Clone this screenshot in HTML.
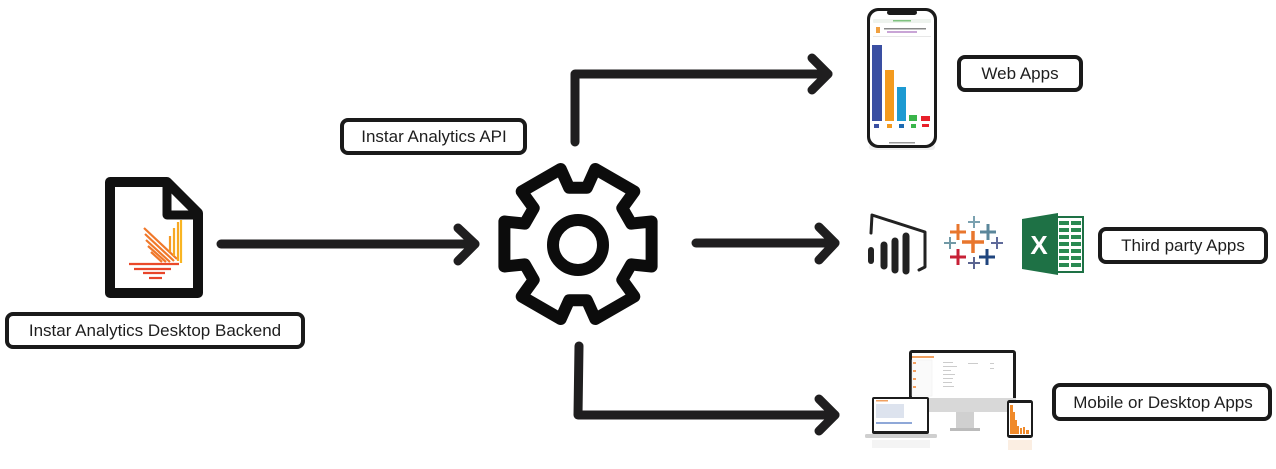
<!DOCTYPE html>
<html>
<head>
<meta charset="utf-8">
<style>
  html,body{margin:0;padding:0;background:#fff;}
  body{width:1276px;height:469px;overflow:hidden;}
  svg{display:block;}
  text{font-family:"Liberation Sans", Arial, sans-serif;fill:#1e1e1e;}
</style>
</head>
<body>
<svg width="1276" height="469" viewBox="0 0 1276 469" xmlns="http://www.w3.org/2000/svg">
  <!-- ===== Document icon ===== -->
  <path d="M110 182 L167 182 L198 213 L198 293 L110 293 Z" fill="#fff" stroke="#111" stroke-width="10" stroke-linejoin="round"/>
  <path d="M167 182 L167 215 L198 215" fill="none" stroke="#111" stroke-width="9" stroke-linejoin="round"/>
  <!-- logo -->
  <g stroke-width="2.2" stroke-linecap="butt">
    <line x1="144" y1="228" x2="177" y2="259" stroke="#f0782a"/>
    <line x1="145" y1="234" x2="174" y2="261" stroke="#f0782a"/>
    <line x1="146" y1="240" x2="170" y2="262" stroke="#f0782a"/>
    <line x1="148" y1="246" x2="166" y2="262" stroke="#f0782a"/>
    <line x1="151" y1="252" x2="162" y2="262" stroke="#f0782a"/>
    <line x1="170" y1="236" x2="170" y2="252" stroke="#f59a25"/>
    <line x1="174" y1="228" x2="174" y2="256" stroke="#f7a823"/>
    <line x1="178" y1="222" x2="178" y2="261" stroke="#f7a823"/>
    <line x1="181" y1="220" x2="181" y2="263" stroke="#f9b522"/>
    <line x1="129" y1="264" x2="179" y2="264" stroke="#ea4a2a"/>
    <line x1="134" y1="269" x2="171" y2="269" stroke="#e8452a"/>
    <line x1="143" y1="273" x2="165" y2="273" stroke="#e8452a"/>
    <line x1="149" y1="278" x2="162" y2="278" stroke="#e8452a"/>
  </g>

  <!-- Backend box -->
  <rect x="7" y="314" width="296" height="33" rx="6" fill="#fff" stroke="#1a1a1a" stroke-width="4"/>
  <text x="155" y="336" font-size="17" text-anchor="middle">Instar Analytics Desktop Backend</text>

  <!-- API box -->
  <rect x="342" y="120" width="183" height="33" rx="6" fill="#fff" stroke="#1a1a1a" stroke-width="4"/>
  <text x="434" y="142" font-size="17" text-anchor="middle">Instar Analytics API</text>

  <!-- ===== Arrows ===== -->
  <g fill="none" stroke="#1f1e1f" stroke-width="9" stroke-linecap="round" stroke-linejoin="round">
    <!-- left -->
    <path d="M221 244 L475 244"/>
    <path d="M458 228 L475 244 L458 261"/>
    <!-- top -->
    <path d="M575 142 L575 74 L828 74"/>
    <path d="M812 58 L828 74 L812 90"/>
    <!-- middle -->
    <path d="M696 243 L835 243"/>
    <path d="M819 227 L835 243 L819 260"/>
    <!-- bottom -->
    <path d="M579 346 L578 415 L835 415"/>
    <path d="M819 399 L835 415 L819 431"/>
  </g>

  <!-- ===== Gear ===== -->
  <path d="M631.2 223.6 L651.6 221.5 L651.6 266.5 L631.2 264.4
           L622.3 279.9 L634.3 296.5 L595.3 319.0 L586.9 300.3
           L569.1 300.3 L560.7 319.0 L521.7 296.5 L533.7 279.9
           L524.8 264.4 L504.4 266.5 L504.4 221.5 L524.8 223.6
           L533.7 208.1 L521.7 191.5 L560.7 169.0 L569.1 187.7
           L586.9 187.7 L595.3 169.0 L634.3 191.5 L622.3 208.1 Z"
        fill="#fff" stroke="#0c0c0c" stroke-width="12" stroke-linejoin="round"/>
  <circle cx="578" cy="245" r="25" fill="#fff" stroke="#0c0c0c" stroke-width="12"/>

  <!-- ===== Phone ===== -->
  <rect x="869" y="144" width="66" height="6" rx="3" fill="#eee"/>
  <rect x="867" y="8" width="70" height="140" rx="11" fill="#1a1a1a"/>
  <rect x="870" y="11" width="64" height="134" rx="9" fill="#fff"/>
  <rect x="887" y="10" width="30" height="5" rx="2.5" fill="#1a1a1a"/>
  <rect x="873" y="19" width="58" height="4" rx="1" fill="#eef3ee"/>
  <rect x="893" y="20" width="18" height="1.5" fill="#7fc27f"/>
  <rect x="876" y="27" width="4" height="6" fill="#f0a040"/>
  <rect x="884" y="28" width="42" height="1.5" fill="#888"/>
  <rect x="887" y="31" width="30" height="2" fill="#c9a5d6"/>
  <rect x="873" y="36" width="58" height="0.7" fill="#ddd"/>
  <rect x="872" y="45" width="10" height="76" fill="#3a4fa2"/>
  <rect x="885" y="70" width="9" height="51" fill="#f39a1e"/>
  <rect x="897" y="87" width="9" height="34" fill="#1d9ad2"/>
  <rect x="909" y="115" width="8" height="6" fill="#3ab54a"/>
  <rect x="921" y="116" width="9" height="5" fill="#e8202a"/>
  <rect x="874" y="124" width="5" height="4" fill="#3a4fa2"/>
  <rect x="887" y="124" width="5" height="4" fill="#f39a1e"/>
  <rect x="899" y="124" width="5" height="4" fill="#1d6ab2"/>
  <rect x="911" y="124" width="5" height="4" fill="#3ab54a"/>
  <rect x="922" y="124" width="7" height="3" fill="#e8202a"/>
  <rect x="889" y="142" width="26" height="1.5" fill="#999"/>

  <!-- Web Apps box -->
  <rect x="959" y="57" width="122" height="33" rx="6" fill="#fff" stroke="#1a1a1a" stroke-width="4"/>
  <text x="1020" y="79" font-size="17" text-anchor="middle">Web Apps</text>

  <!-- ===== Power BI ===== -->
  <path d="M871 233 L872 215 L925 232 L925 267 L919 270" fill="none" stroke="#222" stroke-width="3" stroke-linecap="round" stroke-linejoin="round"/>
  <g stroke="#222" stroke-linecap="round">
    <line x1="871" y1="250" x2="871" y2="261" stroke-width="6"/>
    <line x1="884" y1="245" x2="884" y2="266" stroke-width="7"/>
    <line x1="895" y1="241" x2="895" y2="270" stroke-width="7"/>
    <line x1="906" y1="236" x2="906" y2="271" stroke-width="7"/>
  </g>

  <!-- ===== Tableau ===== -->
  <g stroke-linecap="butt">
    <g stroke="#7aa1b0" stroke-width="2"><line x1="974" y1="216" x2="974" y2="228"/><line x1="968" y1="222" x2="980" y2="222"/></g>
    <g stroke="#e8762d" stroke-width="3"><line x1="958" y1="224" x2="958" y2="240"/><line x1="950" y1="232" x2="966" y2="232"/></g>
    <g stroke="#5b879b" stroke-width="3"><line x1="988" y1="224" x2="988" y2="240"/><line x1="980" y1="232" x2="996" y2="232"/></g>
    <g stroke="#7199a6" stroke-width="2"><line x1="950" y1="237" x2="950" y2="249"/><line x1="944" y1="243" x2="956" y2="243"/></g>
    <g stroke="#e8762d" stroke-width="3.5"><line x1="973" y1="231" x2="973" y2="253"/><line x1="962" y1="242" x2="984" y2="242"/></g>
    <g stroke="#5f6a9a" stroke-width="2"><line x1="997" y1="237" x2="997" y2="249"/><line x1="991" y1="243" x2="1003" y2="243"/></g>
    <g stroke="#c72036" stroke-width="3"><line x1="958" y1="249" x2="958" y2="265"/><line x1="950" y1="257" x2="966" y2="257"/></g>
    <g stroke="#1f457e" stroke-width="3"><line x1="987" y1="249" x2="987" y2="265"/><line x1="979" y1="257" x2="995" y2="257"/></g>
    <g stroke="#5b6591" stroke-width="2"><line x1="974" y1="257" x2="974" y2="269"/><line x1="968" y1="263" x2="980" y2="263"/></g>
  </g>

  <!-- ===== Excel ===== -->
  <rect x="1050" y="217" width="33" height="55" fill="#fff" stroke="#1e7145" stroke-width="2"/>
  <g fill="#2a8a52">
    <rect x="1059" y="221" width="10" height="4"/><rect x="1071" y="221" width="10" height="4"/>
    <rect x="1059" y="228" width="10" height="4"/><rect x="1071" y="228" width="10" height="4"/>
    <rect x="1059" y="235" width="10" height="4"/><rect x="1071" y="235" width="10" height="4"/>
    <rect x="1059" y="242" width="10" height="4"/><rect x="1071" y="242" width="10" height="4"/>
    <rect x="1059" y="249" width="10" height="4"/><rect x="1071" y="249" width="10" height="4"/>
    <rect x="1059" y="256" width="10" height="4"/><rect x="1071" y="256" width="10" height="4"/>
    <rect x="1059" y="263" width="10" height="4"/><rect x="1071" y="263" width="10" height="4"/>
  </g>
  <polygon points="1022,219 1058,213 1058,275 1022,269" fill="#1e7145"/>
  <text x="1039" y="254" font-size="26" font-weight="bold" text-anchor="middle" style="fill:#fff">X</text>

  <!-- Third party box -->
  <rect x="1100" y="229" width="166" height="33" rx="6" fill="#fff" stroke="#1a1a1a" stroke-width="4"/>
  <text x="1183" y="251" font-size="17" text-anchor="middle">Third party Apps</text>

  <!-- ===== Devices ===== -->
  <!-- reflections -->
  <rect x="872" y="440" width="58" height="8" fill="#f4f4f4"/>
  <rect x="1008" y="440" width="24" height="10" fill="#fbeee2"/>
  <!-- monitor -->
  <rect x="909" y="350" width="107" height="62" rx="3" fill="#1c1c1c"/>
  <rect x="912" y="353" width="101" height="45" fill="#fff"/>
  <rect x="909" y="398" width="107" height="14" fill="#d8d8d8"/>
  <rect x="912" y="356" width="22" height="2" fill="#f0a060"/>
  <rect x="912" y="360" width="20" height="36" fill="#fafafa" stroke="#eee" stroke-width="0.5"/>
  <g fill="#f4a060"><rect x="913" y="362" width="3" height="2"/><rect x="913" y="370" width="3" height="2"/><rect x="913" y="378" width="3" height="2"/><rect x="913" y="386" width="3" height="2"/></g>
  <g fill="#ccc"><rect x="943" y="362" width="10" height="1"/><rect x="943" y="366" width="14" height="1"/><rect x="943" y="370" width="8" height="1"/><rect x="943" y="374" width="12" height="1"/><rect x="943" y="378" width="10" height="1"/><rect x="943" y="382" width="9" height="1"/><rect x="943" y="386" width="11" height="1"/><rect x="968" y="363" width="10" height="1"/><rect x="990" y="363" width="4" height="1"/><rect x="990" y="368" width="4" height="1"/></g>
  <rect x="956" y="412" width="18" height="16" fill="#d0d0d0"/>
  <rect x="950" y="428" width="30" height="3" fill="#bbb"/>
  <!-- laptop -->
  <rect x="872" y="397" width="57" height="37" rx="2" fill="#1c1c1c"/>
  <rect x="874" y="399" width="53" height="32" fill="#fff"/>
  <g fill="#dde3ee"><rect x="876" y="404" width="28" height="14"/></g>
  <rect x="876" y="422" width="36" height="2" fill="#8fa8d8"/>
  <rect x="876" y="400" width="12" height="1.5" fill="#f0a060"/>
  <rect x="865" y="434" width="72" height="4" rx="1.5" fill="#cfcfcf"/>
  <!-- tablet -->
  <rect x="1007" y="400" width="26" height="38" rx="2.5" fill="#1c1c1c"/>
  <rect x="1009" y="403" width="22" height="32" fill="#fff"/>
  <g fill="#f08a2a">
    <rect x="1010" y="405" width="3" height="29"/>
    <rect x="1013" y="412" width="2" height="22"/>
    <rect x="1015" y="420" width="2" height="14"/>
    <rect x="1017" y="426" width="2" height="8"/>
    <rect x="1020" y="428" width="2" height="6"/>
    <rect x="1023" y="427" width="2" height="7"/>
    <rect x="1026" y="430" width="3" height="4"/>
  </g>

  <!-- Mobile box -->
  <rect x="1054" y="385" width="216" height="34" rx="6" fill="#fff" stroke="#1a1a1a" stroke-width="4"/>
  <text x="1163" y="408" font-size="17" text-anchor="middle">Mobile or Desktop Apps</text>
</svg>
</body>
</html>
